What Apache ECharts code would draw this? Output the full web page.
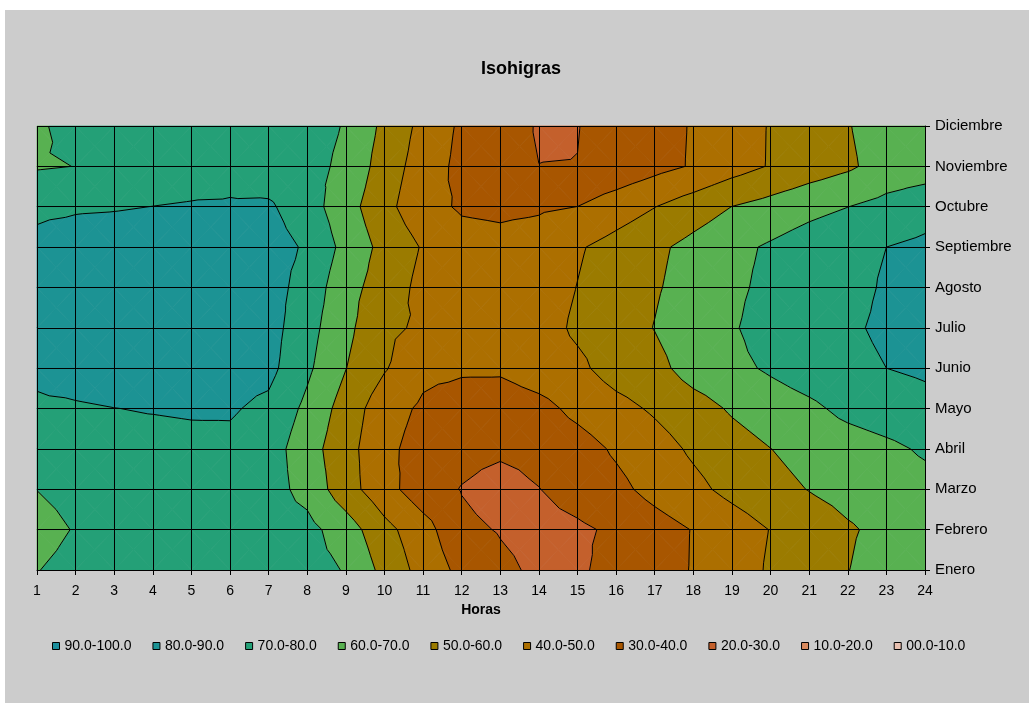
<!DOCTYPE html>
<html><head><meta charset="utf-8">
<script src="https://cdn.jsdelivr.net/npm/echarts@6/dist/echarts.min.js"></script>
<style>html,body{margin:0;padding:0;background:#fff}#c{width:1029px;height:703px}</style>
</head><body><div id="c"></div><script>
// Tick labels / categories
const hours = [1,2,3,4,5,6,7,8,9,10,11,12,13,14,15,16,17,18,19,20,21,22,23,24];
const months = ['Enero','Febrero','Marzo','Abril','Mayo','Junio','Julio','Agosto','Septiembre','Octubre','Noviembre','Diciembre'];

// Relative humidity (%) per month at each hour
const enero      = [69.5,75,76,76,76,76,75,73,69.5,57,46.4,37.3,32,28.3,28.5,33.3,36.5,40.5,45,51.2,55.5,59.8,64,66];
const febrero    = [64,71,75,76,76,76,75,73.1,64.9,53,44,32.2,29.4,27,28.5,31.5,36,40.4,45,50.3,55,59,62.3,64];
const marzo      = [70.2,75,76,77,77,76.5,74,66.7,54.1,43.6,34.4,29.6,26,29.8,33.8,37.5,43,47.5,52.7,57,60.3,63,65,67];
const abril      = [74,76,77,77,77.5,77.7,74.7,64.2,53.7,42.5,36,33,31.8,33,36,41.3,46,51.5,56,59.9,63.2,65.5,68,71.2];
const mayo       = [78.5,79,79.9,80.5,81,81,77.7,67.7,55.7,44.2,38.4,35,34.5,37,42.5,47,51.3,56,61.1,65,68,72.5,75,77];
const junio      = [82,84,85,85,85,84,82.8,71.8,60.2,50.8,42.5,41.5,41.5,45.1,48,54,57,64.1,67.5,71.3,75,78,80,81.5];
const julio      = [84,86,87,87,87,86,83.9,73.7,62.5,52,48.5,45,44,46,51.6,55,60.3,66,69,74.3,77.5,79,81.2,83];
const agosto     = [84,86,87,87,87,86,84,76.2,63.5,55.5,47.2,44.5,43.5,45.5,50.2,55,59,64,68,72.4,76,78,80.7,83];
const septiembre = [82.5,85,86,86.5,86.5,86,84,78.8,66.9,57,49.2,44,43,44.5,49,53.5,58,62.9,67.5,71.2,75,78,80,82];
const octubre    = [78,78.8,79.2,80.1,81,81.2,81.4,74.4,64.1,53,43.4,38.8,38,38.8,40.05,45,49.8,55,60.1,63.5,67,69.9,73,76];
const noviembre  = [69.2,70.1,72,73,74,76,74.3,72.5,68.3,55.1,45.5,37.2,33,30.05,30.1,33,37,40.8,46,50.65,55,58.5,63.9,65.3];
const diciembre  = [68.3,74,75,75,75,75,75,73,69.5,57.6,47.2,38.3,34,29.3,29.8,33,37,40.6,45.5,50.56,55,59.5,64.5,66];
const humidity = [enero,febrero,marzo,abril,mayo,junio,julio,agosto,septiembre,octubre,noviembre,diciembre];

// Bands (legend)
const bandLabels = ['90.0-100.0','80.0-90.0','70.0-80.0','60.0-70.0','50.0-60.0','40.0-50.0','30.0-40.0','20.0-30.0','10.0-20.0','00.0-10.0'];
const bandMin = [90,80,70,60,50,40,30,20,10,0];
const bandMax = [100,90,80,70,60,50,40,30,20,10];
const bandColors = ['#1B8E9C','#1C9394','#24A077','#58B151','#9B7B00','#AC6F00','#A85600','#C4602C','#D98A5E','#E8C0B0'];
const contourLevels = [10,20,30,40,50,60,70,80,90];

const FONT = 'Liberation Sans, Arial, sans-serif';

// cells
const cells = [];
for (let j = 0; j < months.length - 1; j++)
  for (let i = 0; i < hours.length - 1; i++) cells.push([i, j]);

function triangles(i, j) {
  const A = [hours[i], j, humidity[j][i]];
  const B = [hours[i+1], j, humidity[j][i+1]];
  const C = [hours[i+1], j+1, humidity[j+1][i+1]];
  const D = [hours[i], j+1, humidity[j+1][i]];
  const M = [(A[0]+B[0])/2, j+0.5, (A[2]+B[2]+C[2]+D[2])/4];
  return [[A,B,M],[B,C,M],[C,D,M],[D,A,M]];
}
function lerp(a, b, t) { return [a[0]+(b[0]-a[0])*t, a[1]+(b[1]-a[1])*t, a[2]+(b[2]-a[2])*t]; }
function clip(poly, f) {
  const out = [];
  for (let k = 0; k < poly.length; k++) {
    const a = poly[k], b = poly[(k+1) % poly.length];
    const fa = f(a), fb = f(b);
    if (fa >= 0) out.push(a);
    if ((fa >= 0) !== (fb >= 0)) out.push(lerp(a, b, fa / (fa - fb)));
  }
  return out;
}

function bandRenderer(k) {
  return function (params, api) {
    const i = api.value(0), j = api.value(1);
    const children = [];
    for (const tri of triangles(i, j)) {
      let poly = clip(tri, p => p[2] - bandMin[k]);
      if (poly.length < 3) continue;
      poly = clip(poly, p => (k === 0 ? 1e9 : bandMax[k]) - p[2]);
      if (poly.length < 3) continue;
      children.push({
        type: 'polygon', silent: true,
        shape: { points: poly.map(p => api.coord([p[0], p[1]])) },
        style: { fill: bandColors[k], stroke: bandColors[k], lineWidth: 0.7 }
      });
    }
    return { type: 'group', children };
  };
}
function lineRenderer(params, api) {
  const i = api.value(0), j = api.value(1);
  const children = [];
  for (const tri of triangles(i, j)) {
    for (const L of contourLevels) {
      const pts = [];
      for (let k = 0; k < 3; k++) {
        const a = tri[k], b = tri[(k+1) % 3];
        const fa = a[2] - L, fb = b[2] - L;
        if ((fa >= 0) !== (fb >= 0)) pts.push(lerp(a, b, fa / (fa - fb)));
      }
      if (pts.length === 2) {
        const p1 = api.coord([pts[0][0], pts[0][1]]), p2 = api.coord([pts[1][0], pts[1][1]]);
        children.push({ type: 'line', silent: true,
          shape: { x1: p1[0], y1: p1[1], x2: p2[0], y2: p2[1] },
          style: { stroke: '#000', lineWidth: 1 } });
      }
    }
  }
  return { type: 'group', children };
}

const series = bandLabels.map((name, k) => ({
  name, type: 'custom', renderItem: bandRenderer(k), data: cells,
  itemStyle: { color: bandColors[k], borderColor: '#000', borderWidth: 1 },
  encode: { x: 0, y: 1 }, z: 2, silent: true
}));
series.push({ name: 'contornos', type: 'custom', renderItem: lineRenderer, data: cells,
  encode: { x: 0, y: 1 }, z: 3, silent: true });

const chart = echarts.init(document.getElementById('c'), null, { renderer: 'canvas' });
chart.setOption({
  animation: false,
  backgroundColor: 'transparent',
  graphic: [{ type: 'rect', z: -10, silent: true, shape: { x: 5, y: 10, width: 1024, height: 693 }, style: { fill: '#CCCCCC' } }],
  title: { text: 'Isohigras', left: 481, top: 60, padding: 0,
    textStyle: { fontFamily: FONT, fontSize: 18, fontWeight: 'bold', color: '#000' } },
  legend: {
    data: bandLabels, left: 52, top: 639, padding: 0, itemGap: 21,
    icon: 'rect', itemWidth: 7, itemHeight: 7,
    itemStyle: { borderColor: '#000', borderWidth: 1 },
    textStyle: { fontFamily: FONT, fontSize: 14, color: '#000' },
    selectedMode: false
  },
  grid: { left: 37, right: 104, top: 126, bottom: 133, containLabel: false },
  xAxis: {
    type: 'value', min: 1, max: 24, interval: 1, z: 10,
    name: 'Horas', nameLocation: 'middle', nameGap: 28,
    nameTextStyle: { fontFamily: FONT, fontSize: 14, fontWeight: 'bold', color: '#000' },
    axisLine: { show: true, lineStyle: { color: '#000', width: 1 } },
    axisTick: { show: true, length: 5, lineStyle: { color: '#000' } },
    axisLabel: { margin: 14, fontFamily: FONT, fontSize: 14, color: '#000',
      formatter: v => String(hours[v - 1]) },
    splitLine: { show: true, lineStyle: { color: '#000', width: 1 } }
  },
  yAxis: {
    type: 'value', min: 0, max: 11, interval: 1, position: 'right', z: 10,
    axisLine: { show: true, lineStyle: { color: '#000', width: 1 } },
    axisTick: { show: true, length: 5, lineStyle: { color: '#000' } },
    axisLabel: { margin: 10, fontFamily: FONT, fontSize: 15, color: '#000',
      formatter: v => months[v] },
    splitLine: { show: true, lineStyle: { color: '#000', width: 1 } }
  },
  series
});
</script></body></html>
